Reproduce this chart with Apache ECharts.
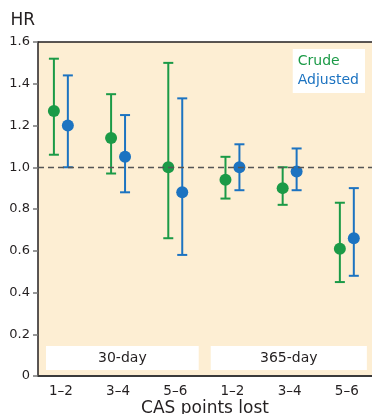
<!DOCTYPE html>
<html><head><meta charset="utf-8">
<script src="https://cdn.jsdelivr.net/npm/echarts@6/dist/echarts.min.js"></script>
<style>html,body{margin:0;padding:0;background:#fff}#c{width:372px;height:414px}</style>
</head><body><div id="c"></div>
<script>
const categories = ['1–2', '3–4', '5–6', '1–2', '3–4', '5–6'];
const panels = ['30-day', '365-day'];
const crude = [1.27, 1.14, 1.00, 0.94, 0.90, 0.61];
const crudeLow = [1.06, 0.97, 0.66, 0.85, 0.82, 0.45];
const crudeHigh = [1.52, 1.35, 1.50, 1.05, 1.00, 0.83];
const adjusted = [1.20, 1.05, 0.88, 1.00, 0.98, 0.66];
const adjustedLow = [1.00, 0.88, 0.58, 0.89, 0.89, 0.48];
const adjustedHigh = [1.44, 1.25, 1.33, 1.11, 1.09, 0.90];
const yTicks = [0, 0.2, 0.4, 0.6, 0.8, 1.0, 1.2, 1.4, 1.6];

const GREEN = '#1b9a47', BLUE = '#1c73c1', BG = '#fdeed3', FONT = 'DejaVu Sans, Liberation Sans, sans-serif';
const TXT = '#231f20';
const OFF = 0.122;

function errBars(low, high, off) {
  return low.map((l, i) => [i + off, l, high[i]]);
}
function renderErr(color) {
  return function (params, api) {
    const x = api.value(0);
    const p1 = api.coord([x, api.value(1)]);
    const p2 = api.coord([x, api.value(2)]);
    const w = 5;
    const st = { stroke: color, lineWidth: 2 };
    return { type: 'group', children: [
      { type: 'line', shape: { x1: p1[0], y1: p1[1], x2: p2[0], y2: p2[1] }, style: st },
      { type: 'line', shape: { x1: p1[0] - w, y1: p1[1], x2: p1[0] + w, y2: p1[1] }, style: st },
      { type: 'line', shape: { x1: p2[0] - w, y1: p2[1], x2: p2[0] + w, y2: p2[1] }, style: st }
    ]};
  };
}

const chart = echarts.init(document.getElementById('c'));
chart.setOption({
  animation: false,
  textStyle: { fontFamily: FONT },
  grid: { left: 38, right: 0, top: 42, bottom: 38, show: true, backgroundColor: BG, borderWidth: 0,
          containLabel: false, outerBoundsMode: 'none' },
  legend: {
    orient: 'vertical', right: 7, top: 49, backgroundColor: '#fff', padding: [5, 6, 6, 0],
    itemWidth: 0, itemHeight: 0, itemGap: 5, icon: 'rect', selectedMode: false,
    textStyle: { fontSize: 14, fontFamily: FONT },
    data: [
      { name: 'Crude', textStyle: { color: GREEN } },
      { name: 'Adjusted', textStyle: { color: BLUE } }
    ]
  },
  xAxis: [{
    type: 'value', min: -0.4, max: 5.44, interval: 0.2,
    name: 'CAS points lost', nameLocation: 'middle', nameGap: 24, nameMoveOverlap: false,
    nameTextStyle: { fontSize: 17, color: TXT },
    splitLine: { show: false }, axisTick: { show: false },
    axisLine: { onZero: false, lineStyle: { color: '#3a3a3a', width: 2 } },
    axisLabel: {
      fontSize: 13.5, color: TXT, margin: 8, showMinLabel: true, showMaxLabel: true,
      formatter: v => { const r = Math.round(v); return Math.abs(v - r) < 1e-6 && r >= 0 && r < categories.length ? categories[r] : ''; }
    }
  }, {
    type: 'value', position: 'top', min: -0.4, max: 5.44,
    axisLine: { show: true, onZero: false, lineStyle: { color: TXT, width: 1.5 } },
    axisTick: { show: false }, axisLabel: { show: false }, splitLine: { show: false }
  }],
  yAxis: {
    type: 'value', min: 0, max: 1.6, interval: 0.2,
    name: 'HR', nameLocation: 'end', nameGap: 13, nameMoveOverlap: false,
    nameTextStyle: { fontSize: 17, color: TXT, align: 'right', padding: [0, 3, 0, 0] },
    splitLine: { show: false },
    axisLine: { show: true, onZero: false, lineStyle: { color: TXT, width: 1.5 } },
    axisTick: { show: true, length: 5, lineStyle: { color: '#777', width: 1.5 } },
    axisLabel: { fontSize: 13, color: TXT, margin: 8,
      formatter: v => { const t = yTicks.find(t => Math.abs(t - v) < 1e-6); return t === undefined ? '' : (t === 0 ? '0' : t.toFixed(1)); } }
  },
  series: [
    {
      name: 'Crude', type: 'custom', renderItem: renderErr(GREEN), silent: true, z: 3,
      data: errBars(crudeLow, crudeHigh, -OFF), encode: { x: 0, y: [1, 2] },
      markArea: {
        silent: true,
        itemStyle: { color: '#fff' },
        label: { position: 'inside', fontSize: 14, color: TXT, fontFamily: FONT },
        data: [
          [{ name: panels[0], coord: [-0.26, 0.144] }, { coord: [2.41, 0.029] }],
          [{ name: panels[1], coord: [2.62, 0.144] }, { coord: [5.35, 0.029] }]
        ]
      }
    },
    {
      name: 'Adjusted', type: 'custom', renderItem: renderErr(BLUE), silent: true, z: 3,
      data: errBars(adjustedLow, adjustedHigh, OFF), encode: { x: 0, y: [1, 2] },
      markLine: {
        silent: true, symbol: 'none', label: { show: false },
        lineStyle: { color: '#555', type: [6, 4], width: 1.3 },
        data: [{ yAxis: 1.0 }]
      }
    },
    {
      name: 'Crude', type: 'scatter', symbolSize: 12, z: 4,
      itemStyle: { color: GREEN, opacity: 1 },
      data: crude.map((v, i) => [i - OFF, v])
    },
    {
      name: 'Adjusted', type: 'scatter', symbolSize: 12, z: 4,
      itemStyle: { color: BLUE, opacity: 1 },
      data: adjusted.map((v, i) => [i + OFF, v])
    }
  ]
});
</script></body></html>
